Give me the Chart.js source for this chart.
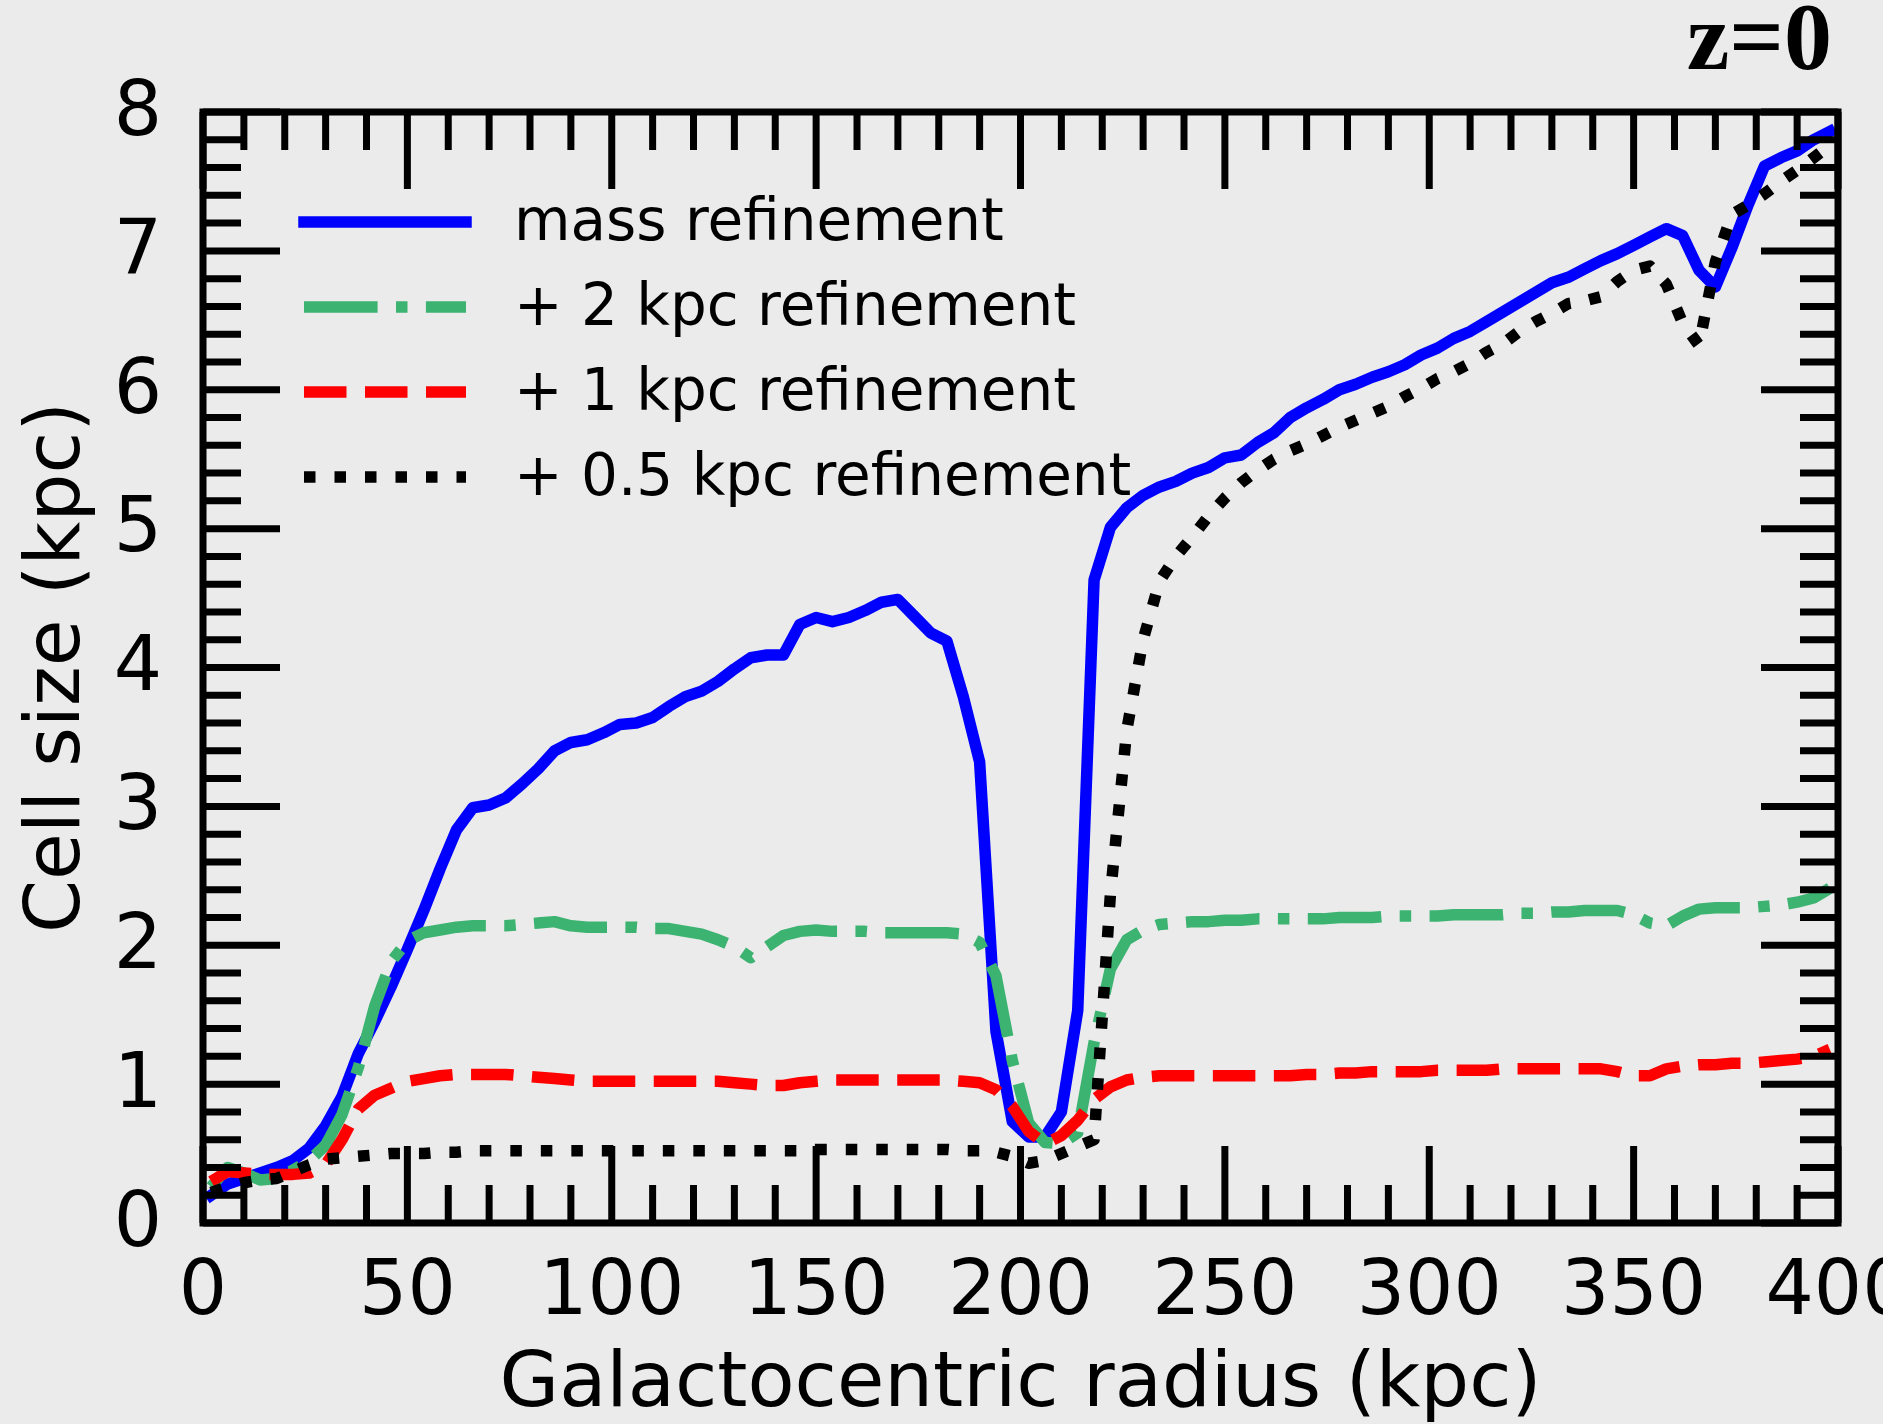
<!DOCTYPE html>
<html>
<head>
<meta charset="utf-8">
<title>Cell size vs galactocentric radius</title>
<script src="https://cdn.jsdelivr.net/npm/chart.js@4.4.1/dist/chart.umd.min.js"></script>
<style>
  html, body { margin: 0; padding: 0; background: #ebebeb; }
  #wrap { width: 1883px; height: 1424px; }
</style>
</head>
<body>
<div id="wrap"><canvas id="cells" width="1883" height="1424"></canvas></div>
<script>
// radial bins (kpc), one every 4 kpc
const radius = [
  2, 6, 10, 14, 18, 22, 26, 30, 34, 38,
  42, 46, 50, 54, 58, 62, 66, 70, 74, 78,
  82, 86, 90, 94, 98, 102, 106, 110, 114, 118,
  122, 126, 130, 134, 138, 142, 146, 150, 154, 158,
  162, 166, 170, 174, 178, 182, 186, 190, 194, 198,
  202, 206, 210, 214, 218, 222, 226, 230, 234, 238,
  242, 246, 250, 254, 258, 262, 266, 270, 274, 278,
  282, 286, 290, 294, 298, 302, 306, 310, 314, 318,
  322, 326, 330, 334, 338, 342, 346, 350, 354, 358,
  362, 366, 370, 374, 378, 382, 386, 390, 394, 398
];

const massRef = [
  0.20, 0.28, 0.32, 0.36, 0.40, 0.45, 0.54, 0.70, 0.91, 1.22,
  1.45, 1.70, 1.97, 2.25, 2.55, 2.83, 2.99, 3.01, 3.06, 3.16,
  3.27, 3.40, 3.46, 3.48, 3.53, 3.59, 3.60, 3.64, 3.72, 3.79,
  3.83, 3.90, 3.99, 4.07, 4.09, 4.09, 4.31, 4.36, 4.33, 4.36,
  4.41, 4.47, 4.49, 4.37, 4.25, 4.19, 3.79, 3.32, 1.38, 0.73,
  0.62, 0.62, 0.80, 1.53, 4.63, 5.01, 5.15, 5.24, 5.30, 5.34,
  5.40, 5.44, 5.51, 5.53, 5.62, 5.69, 5.80, 5.87, 5.93, 6.00,
  6.04, 6.09, 6.13, 6.18, 6.25, 6.30, 6.37, 6.42, 6.49, 6.56,
  6.63, 6.70, 6.77, 6.81, 6.87, 6.93, 6.98, 7.04, 7.10, 7.16,
  7.11, 6.86, 6.74, 7.02, 7.33, 7.61, 7.67, 7.72, 7.80, 7.86
];

const ref2kpc = [
  0.26, 0.40, 0.36, 0.31, 0.32, 0.38, 0.45, 0.56, 0.78, 1.12,
  1.56, 1.88, 2.03, 2.09, 2.11, 2.13, 2.14, 2.14, 2.14, 2.15,
  2.16, 2.17, 2.14, 2.13, 2.13, 2.13, 2.13, 2.12, 2.12, 2.10,
  2.08, 2.04, 1.99, 1.91, 1.99, 2.07, 2.10, 2.11, 2.10, 2.10,
  2.10, 2.09, 2.09, 2.09, 2.09, 2.09, 2.08, 2.02, 1.78, 1.17,
  0.72, 0.58, 0.57, 0.65, 1.30, 1.83, 2.04, 2.11, 2.15, 2.16,
  2.17, 2.17, 2.18, 2.18, 2.19, 2.19, 2.19, 2.19, 2.19, 2.20,
  2.20, 2.20, 2.21, 2.21, 2.21, 2.21, 2.22, 2.22, 2.22, 2.22,
  2.23, 2.23, 2.24, 2.24, 2.25, 2.25, 2.25, 2.22, 2.16, 2.14,
  2.21, 2.26, 2.27, 2.27, 2.27, 2.28, 2.29, 2.31, 2.34, 2.41
];

const ref1kpc = [
  0.30, 0.37, 0.36, 0.35, 0.35, 0.35, 0.36, 0.42, 0.60, 0.82,
  0.92, 0.97, 1.02, 1.04, 1.06, 1.07, 1.07, 1.07, 1.07, 1.06,
  1.05, 1.04, 1.03, 1.02, 1.02, 1.02, 1.02, 1.02, 1.02, 1.02,
  1.02, 1.02, 1.01, 1.00, 0.99, 0.99, 1.01, 1.02, 1.03, 1.03,
  1.03, 1.03, 1.03, 1.03, 1.03, 1.03, 1.02, 1.01, 0.96, 0.84,
  0.66, 0.57, 0.63, 0.74, 0.89, 0.98, 1.03, 1.05, 1.06, 1.06,
  1.06, 1.06, 1.06, 1.06, 1.06, 1.06, 1.06, 1.07, 1.07, 1.08,
  1.08, 1.09, 1.09, 1.09, 1.09, 1.10, 1.10, 1.10, 1.10, 1.11,
  1.11, 1.11, 1.11, 1.11, 1.11, 1.11, 1.09, 1.06, 1.06, 1.11,
  1.13, 1.14, 1.14, 1.15, 1.15, 1.16, 1.17, 1.18, 1.20, 1.25
];

const ref05kpc = [
  0.22, 0.26, 0.29, 0.31, 0.32, 0.37, 0.42, 0.46, 0.47, 0.48,
  0.49, 0.50, 0.50, 0.50, 0.51, 0.51, 0.52, 0.52, 0.52, 0.52,
  0.52, 0.52, 0.52, 0.52, 0.52, 0.52, 0.52, 0.52, 0.52, 0.52,
  0.52, 0.52, 0.52, 0.52, 0.52, 0.52, 0.52, 0.53, 0.53, 0.53,
  0.53, 0.53, 0.53, 0.53, 0.53, 0.53, 0.52, 0.52, 0.51, 0.48,
  0.43, 0.45, 0.50, 0.55, 0.60, 2.37, 3.55, 4.20, 4.62, 4.80,
  4.94, 5.09, 5.22, 5.33, 5.42, 5.50, 5.56, 5.61, 5.67, 5.73,
  5.78, 5.83, 5.88, 5.95, 6.01, 6.08, 6.13, 6.19, 6.27, 6.33,
  6.42, 6.49, 6.55, 6.62, 6.64, 6.67, 6.78, 6.86, 6.89, 6.76,
  6.48, 6.32, 6.92, 7.26, 7.33, 7.41, 7.50, 7.58, 7.67, 7.76
];

const xTicks = { min: 0, max: 400, major: 50, minor: 10 };
const yTicks = { min: 0, max: 8, major: 1, minor: 0.2 };

const LW = 11.5;

function pts(vals) {
  return radius.map((r, i) => ({ x: r, y: vals[i] }));
}

Chart.defaults.font.family = '"DejaVu Sans", sans-serif';
Chart.defaults.color = '#000';

// box frame with inward ticks on all four sides
const frame = {
  id: 'frame',
  beforeDraw(chart) {
    const ctx = chart.ctx;
    ctx.save();
    ctx.fillStyle = '#ebebeb';
    ctx.fillRect(0, 0, chart.width, chart.height);
    ctx.restore();
  },
  afterDatasetsDraw(chart) {
    const { ctx, chartArea: a, scales: { x, y } } = chart;
    ctx.save();
    ctx.strokeStyle = '#000';
    ctx.lineWidth = 7;
    ctx.lineCap = 'butt';
    ctx.beginPath();
    const nx = Math.round((xTicks.max - xTicks.min) / xTicks.minor);
    for (let k = 0; k <= nx; k++) {
      const v = xTicks.min + k * xTicks.minor;
      const px = x.getPixelForValue(v);
      const len = (k % (xTicks.major / xTicks.minor) === 0) ? 77 : 38;
      ctx.moveTo(px, a.bottom); ctx.lineTo(px, a.bottom - len);
      ctx.moveTo(px, a.top); ctx.lineTo(px, a.top + len);
    }
    const ny = Math.round((yTicks.max - yTicks.min) / yTicks.minor);
    for (let k = 0; k <= ny; k++) {
      const v = yTicks.min + k * yTicks.minor;
      const py = y.getPixelForValue(v);
      const len = (k % Math.round(yTicks.major / yTicks.minor) === 0) ? 77 : 38;
      ctx.moveTo(a.left, py); ctx.lineTo(a.left + len, py);
      ctx.moveTo(a.right, py); ctx.lineTo(a.right - len, py);
    }
    ctx.stroke();
    ctx.lineJoin = 'miter';
    ctx.strokeRect(a.left, a.top, a.right - a.left, a.bottom - a.top);
    ctx.restore();
  }
};

// legend drawn inside the axes, upper left, plus the redshift tag
const insetLegend = {
  id: 'insetLegend',
  afterDraw(chart) {
    const { ctx, chartArea: a } = chart;
    const x0 = a.left + 101, x1 = a.left + 263, tx = a.left + 311;
    chart.data.datasets.forEach((ds, i) => {
      const yy = a.top + 110 + i * 85;
      ctx.save();
      ctx.strokeStyle = ds.borderColor;
      ctx.lineWidth = ds.borderWidth;
      ctx.setLineDash(ds.borderDash || []);
      ctx.lineCap = (ds.borderDash && ds.borderDash.length) ? 'butt' : 'square';
      ctx.beginPath();
      ctx.moveTo(x0, yy);
      ctx.lineTo(x1, yy);
      ctx.stroke();
      ctx.setLineDash([]);
      ctx.fillStyle = '#000';
      ctx.font = '58px "DejaVu Sans"';
      ctx.textBaseline = 'middle';
      ctx.textAlign = 'left';
      ctx.fillText(ds.label, tx, yy + 3);
      ctx.restore();
    });

    ctx.save();
    ctx.fillStyle = '#000';
    ctx.font = 'bold 96px "Liberation Serif"';
    ctx.textAlign = 'right';
    ctx.textBaseline = 'alphabetic';
    ctx.fillText('z=0', a.right - 6, 69);
    ctx.restore();
  }
};

const config = {
  type: 'line',
  data: {
    datasets: [
      {
        label: 'mass refinement',
        data: pts(massRef),
        borderColor: '#0000ff',
        borderWidth: LW,
        borderCapStyle: 'square',
        order: 4
      },
      {
        label: '+ 2 kpc refinement',
        data: pts(ref2kpc),
        borderColor: '#3cb371',
        borderWidth: LW,
        borderDash: [73.6, 18.4, 11.5, 18.4],
        order: 3
      },
      {
        label: '+ 1 kpc refinement',
        data: pts(ref1kpc),
        borderColor: '#ff0000',
        borderWidth: LW,
        borderDash: [42.5, 18.5],
        order: 2
      },
      {
        label: '+ 0.5 kpc refinement',
        data: pts(ref05kpc),
        borderColor: '#000000',
        borderWidth: LW,
        borderDash: [11.5, 19],
        order: 1
      }
    ]
  },
  options: {
    responsive: false,
    animation: false,
    events: [],
    layout: { padding: { top: 112, right: 45, left: 0, bottom: 0 } },
    elements: {
      point: { radius: 0 },
      line: { tension: 0, borderJoinStyle: 'round', fill: false }
    },
    plugins: {
      legend: { display: false },
      tooltip: { enabled: false }
    },
    scales: {
      x: {
        type: 'linear',
        min: xTicks.min,
        max: xTicks.max,
        grid: { display: false, drawTicks: false },
        border: { display: false },
        ticks: { stepSize: xTicks.major, padding: 26, font: { size: 76 }, maxRotation: 0, autoSkip: false },
        title: {
          display: true,
          text: 'Galactocentric radius (kpc)',
          font: { size: 77, lineHeight: 1 },
          padding: { top: 0, bottom: 0 }
        },
        afterFit(s) { s.height = 201; s.paddingLeft = 0; s.paddingRight = 0; }
      },
      y: {
        type: 'linear',
        min: yTicks.min,
        max: yTicks.max,
        grid: { display: false, drawTicks: false },
        border: { display: false },
        ticks: { stepSize: yTicks.major, padding: 41, labelOffset: 3, font: { size: 76 } },
        title: {
          display: true,
          text: 'Cell size (kpc)',
          font: { size: 76, lineHeight: 1 },
          padding: { top: 21, bottom: 0 }
        },
        afterFit(s) { s.width = 203; s.paddingTop = 0; s.paddingBottom = 0; }
      }
    }
  },
  plugins: [frame, insetLegend]
};

new Chart(document.getElementById('cells'), config);
</script>
</body>
</html>
